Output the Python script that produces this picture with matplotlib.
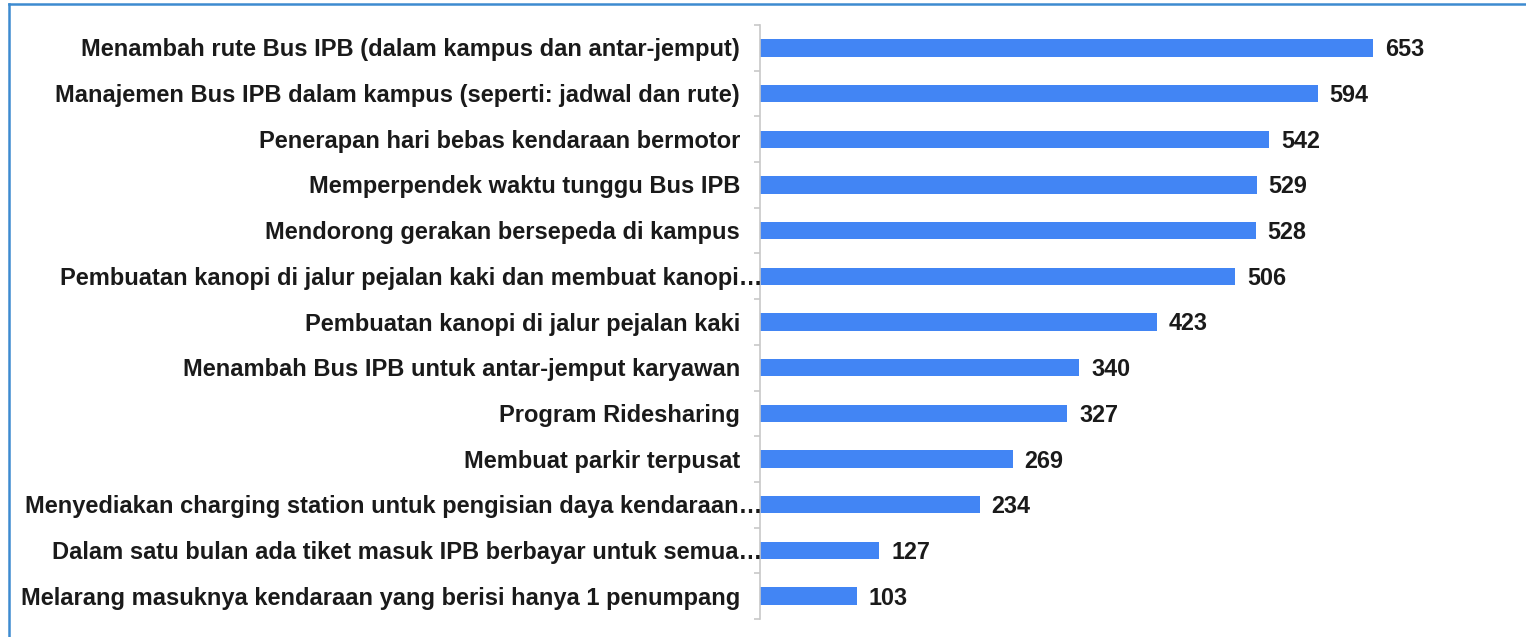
import numpy as np
import matplotlib.pyplot as plt
from matplotlib.lines import Line2D

categories = [
    "Menambah rute Bus IPB (dalam kampus dan antar-jemput)",
    "Manajemen Bus IPB dalam kampus (seperti: jadwal dan rute)",
    "Penerapan hari bebas kendaraan bermotor",
    "Memperpendek waktu tunggu Bus IPB",
    "Mendorong gerakan bersepeda di kampus",
    "Pembuatan kanopi di jalur pejalan kaki dan membuat kanopi…",
    "Pembuatan kanopi di jalur pejalan kaki",
    "Menambah Bus IPB untuk antar-jemput karyawan",
    "Program Ridesharing",
    "Membuat parkir terpusat",
    "Menyediakan charging station untuk pengisian daya kendaraan…",
    "Dalam satu bulan ada tiket masuk IPB berbayar untuk semua…",
    "Melarang masuknya kendaraan yang berisi hanya 1 penumpang",
]
values = [653, 594, 542, 529, 528, 506, 423, 340, 327, 269, 234, 127, 103]

plt.rcParams['font.family'] = ['Liberation Sans', 'DejaVu Sans']

W, H = 1526, 637
fig = plt.figure(figsize=(W / 100, H / 100), dpi=100)
ax = fig.add_axes([760 / W, (H - 619) / H, (1500 - 760) / W, (619 - 25) / H])

y = np.arange(len(categories))
ax.barh(y, values, height=0.38, color="#4285f4")
ax.set_ylim(len(categories) - 0.5, -0.5)
ax.set_xlim(0, (1500 - 760) / ((1373 - 760) / 653))

for yi, v in zip(y, values):
    ax.annotate(str(v), xy=(v, yi), xytext=(12, -2), textcoords="offset pixels",
                ha="left", va="center", fontsize=16.8, fontweight="bold", color="#1a1a1a")

for yi, lab in zip(y, categories):
    pad = 2 if lab.endswith("…") else -20
    ax.annotate(lab, xy=(0, yi), xycoords=("axes fraction", "data"),
                xytext=(pad, -2), textcoords="offset pixels",
                ha="right", va="center", fontsize=17, fontweight="bold",
                color="#1a1a1a", annotation_clip=False)

ax.set_yticks(np.arange(len(categories) + 1) - 0.5)
ax.set_yticklabels([])
ax.tick_params(axis="y", length=4, color="#c8c8c8", width=1.2)
ax.set_xticks([])
for s in ["top", "right", "bottom"]:
    ax.spines[s].set_visible(False)
ax.spines["left"].set_color("#c8c8c8")
ax.spines["left"].set_linewidth(1.2)

# blue frame around the chart
fig.add_artist(Line2D([9 / W, 1], [1 - 4 / H, 1 - 4 / H], color="#3d8bd0", lw=1.8))
fig.add_artist(Line2D([9 / W, 9 / W], [0, 1 - 4 / H], color="#3d8bd0", lw=1.8))

fig.savefig("out.png", dpi=100)
